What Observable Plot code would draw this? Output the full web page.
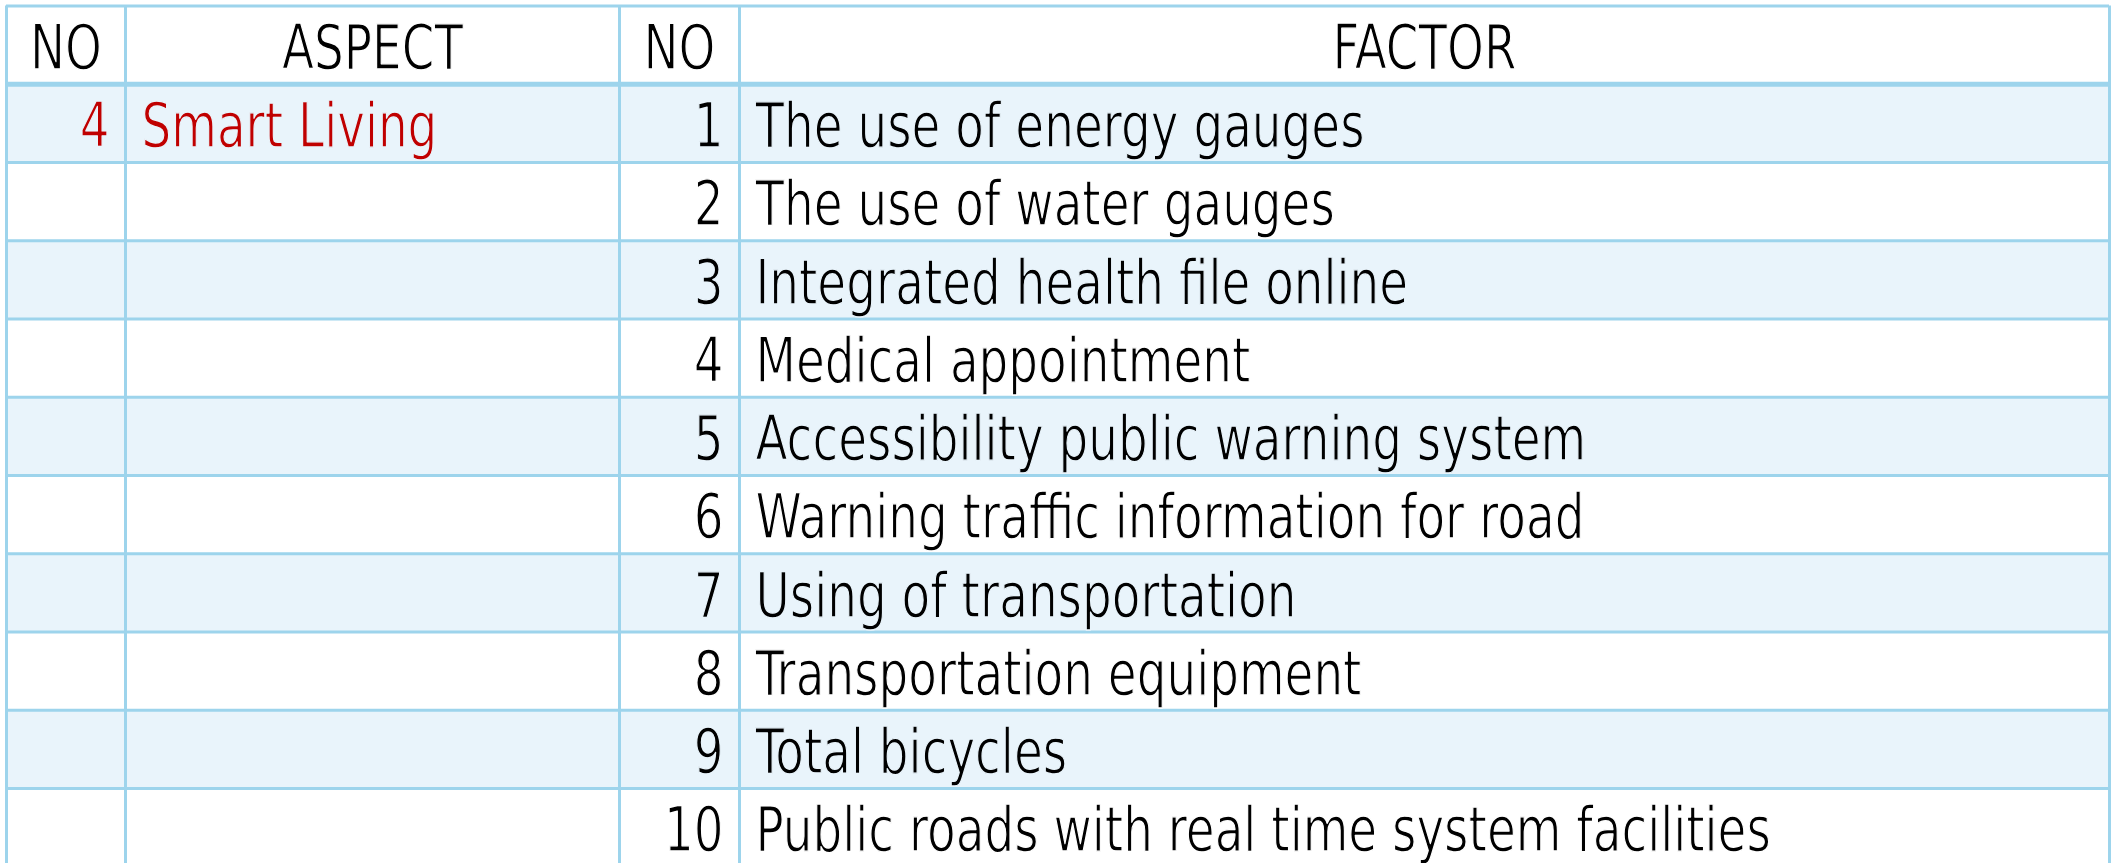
<!DOCTYPE html>
<html>
<head>
<meta charset="utf-8">
<script src="https://cdn.jsdelivr.net/npm/d3@7"></script>
<script src="https://cdn.jsdelivr.net/npm/@observablehq/plot@0.6"></script>
<style>
  html, body { margin: 0; padding: 0; background: #ffffff; }
  #chart svg { display: block; }
</style>
</head>
<body>
<div id="chart"></div>
<script>
// ---- data ----
const headers = ["NO", "ASPECT", "NO", "FACTOR"];
const aspectNo = [4];
const aspectNames = ["Smart Living"];
const factorNo = [1, 2, 3, 4, 5, 6, 7, 8, 9, 10];
const factors = [
  "The use of energy gauges",
  "The use of water gauges",
  "Integrated health file online",
  "Medical appointment",
  "Accessibility public warning system",
  "Warning traffic information for road",
  "Using of transportation",
  "Transportation equipment",
  "Total bicycles",
  "Public roads with real time system facilities"
];

// ---- layout ----
const W = 2111, H = 863;
const colEdges = [6, 125, 619, 739, 2109];
const rowTop = 5.5, rowH = 78.25, nRows = 11;
const lineColor = "#9dd4ec";
const fillColor = "#e9f4fb";
const font = "'DejaVu Sans Condensed', 'DejaVu Sans', sans-serif";
const fs = 62;
const pad = 16;
const squeeze = 0.84;
const thin = 1.3; // thin the glyph strokes with a halo of the cell colour

const rows = factorNo.map((n, i) => ({row: i + 1, no: n, factor: factors[i]}));
const shaded = rows.filter((d, i) => i % 2 === 0);
const headerCells = headers.map((h, i) => ({h, x: (colEdges[i] + colEdges[i + 1]) / 2}));
const aspectRows = aspectNo.map((n, i) => ({row: 1 + i, no: n, name: aspectNames[i]}));
const hLines = d3.range(0, nRows + 1);
const cellBg = d => (d.row % 2 === 1 ? fillColor : "#ffffff");
const textStyle = {fontSize: fs, lineAnchor: "middle", dy: 4, strokeWidth: thin, paintOrder: "normal"};

const chart = Plot.plot({
  width: W,
  height: H,
  margin: 0,
  style: {fontFamily: font, background: "#ffffff", overflow: "hidden"},
  x: {type: "linear", domain: [0, W], range: [0, W], axis: null},
  y: {type: "linear", domain: [0, nRows], range: [rowTop, rowTop + nRows * rowH], axis: null},
  marks: [
    Plot.rect(shaded, {x1: colEdges[0], x2: colEdges[4], y1: d => d.row, y2: d => d.row + 1, fill: fillColor}),
    Plot.ruleY(hLines.filter(d => d !== 1), {y: d => d, x1: colEdges[0], x2: colEdges[4], stroke: lineColor, strokeWidth: 3}),
    Plot.ruleY([1], {y: d => d, x1: colEdges[0], x2: colEdges[4], stroke: lineColor, strokeWidth: 5}),
    Plot.ruleX(colEdges, {x: d => d, y1: 0, y2: nRows, stroke: lineColor, strokeWidth: 3}),
    // header
    Plot.text(headerCells, {...textStyle, x: "x", y: 0.5, text: "h", fill: "#000", stroke: "#ffffff", textAnchor: "middle"}),
    // aspect
    Plot.text(aspectRows, {...textStyle, x: colEdges[1] - pad, y: d => d.row + 0.5, text: d => String(d.no), fill: "#c00000", stroke: cellBg, textAnchor: "end"}),
    Plot.text(aspectRows, {...textStyle, x: colEdges[1] + pad, y: d => d.row + 0.5, text: "name", fill: "#c00000", stroke: cellBg, textAnchor: "start"}),
    // factors
    Plot.text(rows, {...textStyle, x: colEdges[3] - pad, y: d => d.row + 0.5, text: d => String(d.no), fill: "#000", stroke: cellBg, textAnchor: "end"}),
    Plot.text(rows, {...textStyle, x: colEdges[3] + pad, y: d => d.row + 0.5, text: "factor", fill: "#000", stroke: cellBg, textAnchor: "start"})
  ]
});

// narrow the glyphs horizontally around each text's anchor point
d3.select(chart).selectAll("text").each(function() {
  const xa = this.getAttribute("x");
  let x = 0;
  if (xa !== null && !isNaN(+xa)) { x = +xa; this.removeAttribute("x"); }
  const t = this.getAttribute("transform") || "";
  this.setAttribute("transform", `${t} translate(${x},0) scale(${squeeze},1)`);
});

document.getElementById("chart").appendChild(chart);
</script>
</body>
</html>
